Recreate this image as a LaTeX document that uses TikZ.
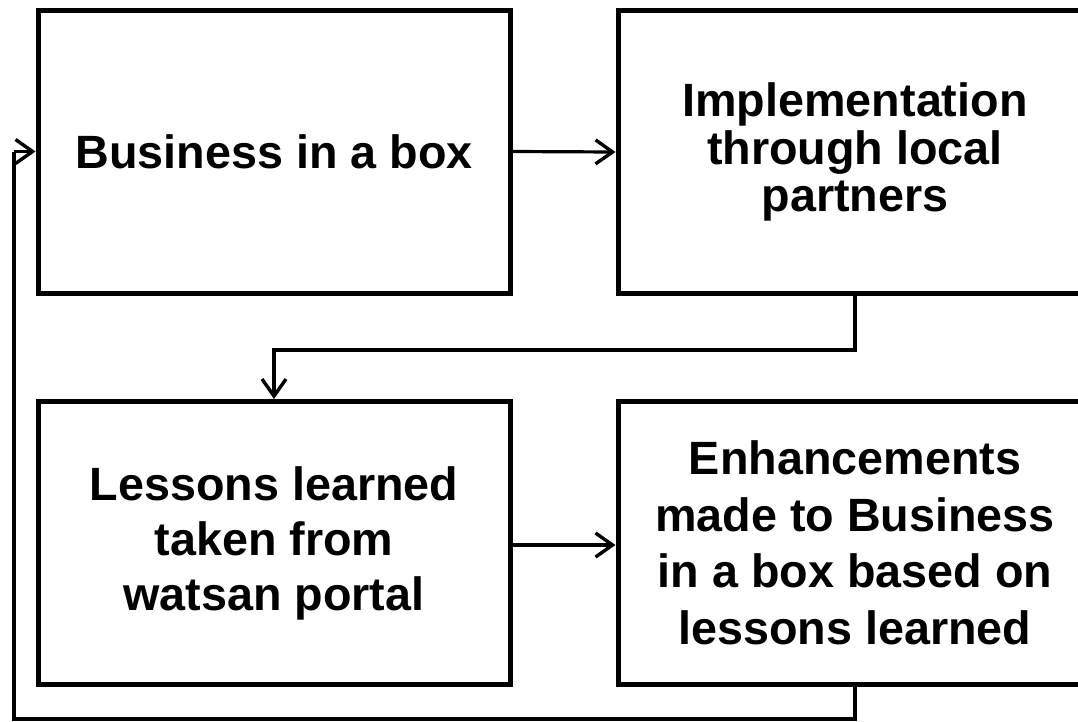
\documentclass[tikz,border=0pt]{standalone}
\usepackage{fontspec}
\setmainfont{Liberation Sans}
\usetikzlibrary{arrows.meta}
\begin{document}
\begin{tikzpicture}[x=1pt,y=-1pt,
  stagebox/.style={draw=black, line width=5pt, rectangle, inner sep=0pt,
    minimum width=472pt, minimum height=283pt, align=center,
    font=\fontsize{46.7}{55}\selectfont\bfseries},
  flow/.style={draw=black, line width=3.2pt,
    -{Straight Barb[length=17pt,width=24pt,line width=3.4pt]}},
  plain/.style={draw=black, line width=3.2pt}]
\useasboundingbox (0,0) rectangle (1078,721);
\clip (0,0) rectangle (1078,721);
\fill[white] (0,0) rectangle (1078,721);

\node[stagebox] (b1) at (274,151.5) {Business in a box};
\node[stagebox, minimum width=474pt, font=\fontsize{46.7}{47.5}\selectfont\bfseries]
  (b2) at (855,152) {Implementation\\through local\\partners};
\node[stagebox] (b3) at (274,543) {Lessons learned\\taken from\\watsan portal};
\node[stagebox, minimum width=474pt, font=\fontsize{46.7}{56.5}\selectfont\bfseries]
  (b4) at (855,543) {Enhancements\\made to Business\\in a box based on\\lessons learned};

\coordinate (loopA) at (14,719);
\coordinate (loopB) at (14,151.5);

\draw[flow] (b1.east) -- (b2.west);
\draw[flow] (b2.south) -- ++(0,54) -| (b3.north);
\draw[flow] (b3.east |- 0,545) -- (b4.west |- 0,545);
\draw[plain] (b4.south) |- (loopA) -- (loopB);
\draw[flow] (loopB) -- (b1.west);
\end{tikzpicture}
\end{document}
